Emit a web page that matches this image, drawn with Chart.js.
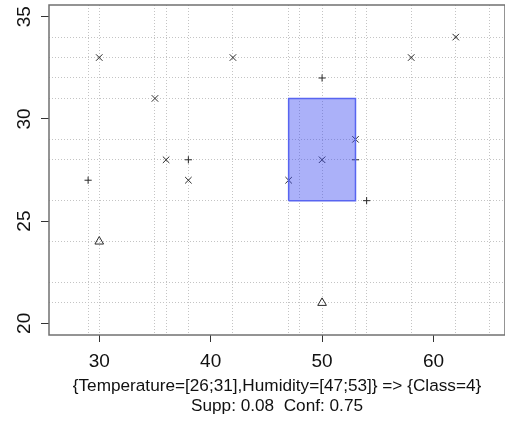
<!DOCTYPE html>
<html>
<head>
<meta charset="utf-8">
<script src="https://cdn.jsdelivr.net/npm/chart.js@4.4.1/dist/chart.umd.min.js"></script>
<style>
  html, body { margin: 0; padding: 0; background: #ffffff; }
  #wrap { width: 505px; height: 421px; }
</style>
</head>
<body>
<div id="wrap"><canvas id="c" width="505" height="421"></canvas></div>
<script>
// ---- data (x = Humidity, y = Temperature) ----
const xMarkHumidity = [30, 35, 36, 38, 42, 47, 50, 53, 58, 62];
const xMarkTemp     = [33, 31, 28, 27, 33, 27, 28, 29, 33, 34];
const plusHumidity  = [29, 38, 50, 53, 54];
const plusTemp      = [27, 28, 32, 28, 26];
const triHumidity   = [30, 50];
const triTemp       = [24, 21];

// rule region
const ruleHumidity = [47, 53];
const ruleTemp     = [26, 31];

// axis ticks and grid positions
const xTickLabels = [30, 40, 50, 60];
const yTickLabels = [20, 25, 30, 35];
const xGridValues = [29, 30, 35, 36, 38, 42, 47, 48, 50, 53, 54, 58, 62, 65];
const yGridValues = [21, 22, 24, 26, 28, 29, 31, 32, 33, 34];

const captionLines = [
  '{Temperature=[26;31],Humidity=[47;53]} => {Class=4}',
  'Supp: 0.08  Conf: 0.75'
];

function pts(xs, ys) { return xs.map((x, i) => ({ x: x, y: ys[i] })); }
function union(a, b) { return Array.from(new Set(a.concat(b))).sort((p, q) => p - q); }

const boxPoints = [
  { x: ruleHumidity[0], y: ruleTemp[0] },
  { x: ruleHumidity[1], y: ruleTemp[0] },
  { x: ruleHumidity[1], y: ruleTemp[1] },
  { x: ruleHumidity[0], y: ruleTemp[1] },
  { x: ruleHumidity[0], y: ruleTemp[0] }
];

const markColor = '#2a2a2a';
const gridColor = '#c4c4c4';
const fontFamily = "'Liberation Sans', Arial, Helvetica, sans-serif";

const framePlugin = {
  id: 'frame',
  afterDraw(chart) {
    const a = chart.chartArea, ctx = chart.ctx;
    ctx.save();
    ctx.strokeStyle = '#707070';
    ctx.lineWidth = 1.5;
    ctx.strokeRect(a.left, a.top, a.right - a.left, a.bottom - a.top);
    ctx.restore();
  }
};

function axisCfg(gridVals, labelVals, min, max, isY) {
  const cfg = {
    type: 'linear',
    min: min, max: max,
    position: isY ? 'left' : 'bottom',
    afterBuildTicks(scale) {
      scale.ticks = union(gridVals, labelVals).map(v => ({ value: v }));
    },
    afterFit(scale) {
      if (isY) scale.width = 49; else scale.height = 86;
      scale.paddingTop = 0; scale.paddingBottom = 0;
      scale.paddingLeft = 0; scale.paddingRight = 0;
    },
    border: { display: false, dash: [1, 2] },
    grid: {
      drawOnChartArea: true,
      drawTicks: true,
      tickLength: isY ? 8 : 7,
      lineWidth: 1,
      tickWidth: 1,
      color: (ctx) => (ctx.tick && gridVals.includes(ctx.tick.value)) ? gridColor : 'rgba(0,0,0,0)',
      tickColor: (ctx) => (ctx.tick && labelVals.includes(ctx.tick.value)) ? '#333333' : 'rgba(0,0,0,0)',
      tickBorderDash: []
    },
    ticks: {
      autoSkip: false,
      color: '#111111',
      font: { family: fontFamily, size: 19 },
      padding: isY ? 6 : 8,
      minRotation: isY ? 90 : 0,
      maxRotation: isY ? 90 : 0,
      crossAlign: isY ? 'center' : 'near',
      callback: (v) => labelVals.includes(v) ? String(v) : ''
    }
  };
  if (!isY) {
    cfg.title = {
      display: true,
      text: captionLines,
      color: '#111111',
      font: { family: fontFamily, size: 17.2, weight: 'normal', lineHeight: 1.14 },
      padding: { top: 0, bottom: 5 }
    };
  }
  return cfg;
}

new Chart(document.getElementById('c'), {
  type: 'scatter',
  data: {
    datasets: [
      {
        label: 'rule',
        data: boxPoints,
        showLine: true,
        fill: 'shape',
        backgroundColor: 'rgba(60,75,240,0.43)',
        borderColor: '#5865f0',
        borderWidth: 1.5,
        pointRadius: 0,
        tension: 0
      },
      {
        label: 'x',
        data: pts(xMarkHumidity, xMarkTemp),
        pointStyle: 'crossRot',
        pointRadius: 4.6,
        pointBorderWidth: 1,
        borderColor: markColor,
        backgroundColor: 'rgba(0,0,0,0)'
      },
      {
        label: 'plus',
        data: pts(plusHumidity, plusTemp),
        pointStyle: 'cross',
        pointRadius: 3.6,
        pointBorderWidth: 1,
        borderColor: markColor,
        backgroundColor: 'rgba(0,0,0,0)'
      },
      {
        label: 'triangle',
        data: pts(triHumidity, triTemp),
        pointStyle: 'triangle',
        pointRadius: 5,
        pointBorderWidth: 1,
        borderColor: markColor,
        backgroundColor: 'rgba(0,0,0,0)'
      }
    ]
  },
  options: {
    responsive: false,
    animation: false,
    layout: { autoPadding: false, padding: { top: 5, left: 0, right: 0, bottom: 0 } },
    scales: {
      x: axisCfg(xGridValues, xTickLabels, 25.49, 66.42, false),
      y: axisCfg(yGridValues, yTickLabels, 19.43, 35.57, true)
    },
    plugins: {
      legend: { display: false },
      tooltip: { enabled: false },
      title: { display: false }
    }
  },
  plugins: [framePlugin]
});
</script>
</body>
</html>
